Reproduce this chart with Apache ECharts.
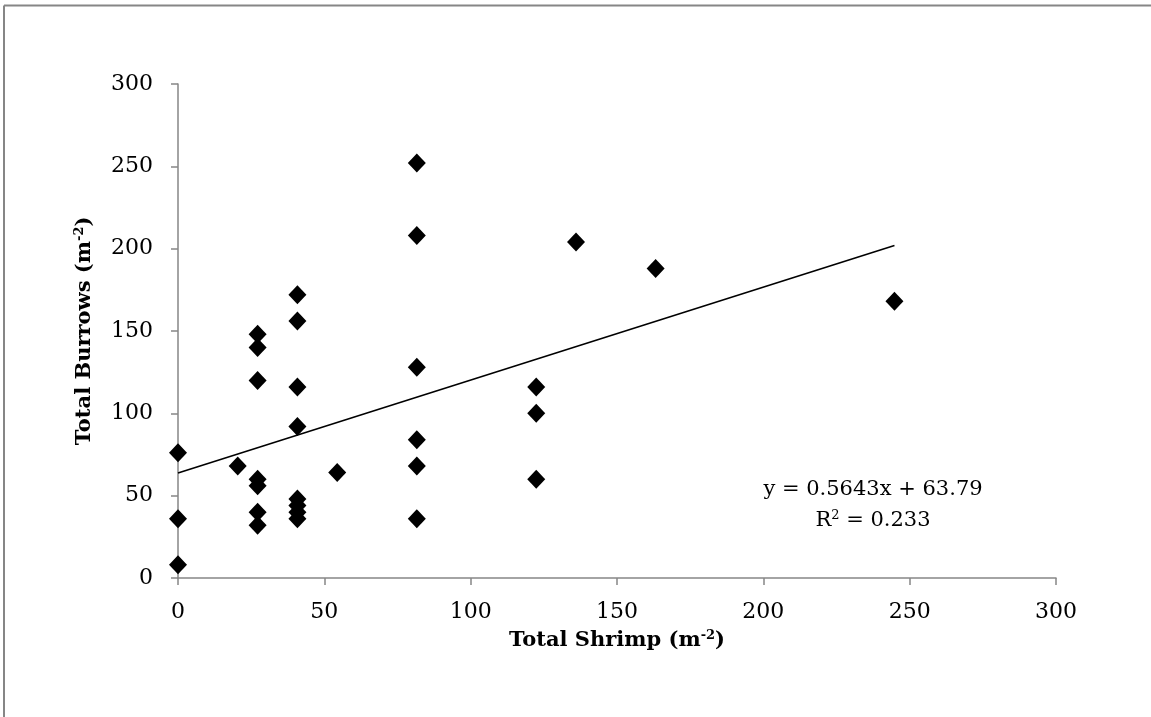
<!DOCTYPE html>
<html>
<head>
<meta charset="utf-8">
<script src="https://cdn.jsdelivr.net/npm/echarts@6/dist/echarts.min.js"></script>
<style>
  html, body { margin: 0; padding: 0; background: #fff; }
  #chart { width: 1151px; height: 717px; }
</style>
</head>
<body>
<div id="chart"></div>
<script>
// data
const shrimp = [
  0, 0, 0,
  20.4,
  27.2, 27.2, 27.2, 27.2, 27.2, 27.2, 27.2,
  40.8, 40.8, 40.8, 40.8, 40.8, 40.8, 40.8, 40.8,
  54.4,
  81.6, 81.6, 81.6, 81.6, 81.6, 81.6,
  122.4, 122.4, 122.4,
  136, 163.2, 244.8
];
const burrows = [
  76, 36, 8,
  68,
  148, 140, 120, 60, 56, 40, 32,
  172, 156, 116, 92, 48, 44, 40, 36,
  64,
  252, 208, 128, 84, 68, 36,
  116, 100, 60,
  204, 188, 168
];
// trend line as printed on the chart
const slope = 0.5643;
const intercept = 63.79;
const trendX = [0, 244.8];
const axisMin = 0, axisMax = 300, axisStep = 50;

const font = '"DejaVu Serif", "Liberation Serif", serif';
const axisGray = '#868686';

const points = shrimp.map((x, i) => [x, burrows[i]]);
const trend = trendX.map(x => [x, slope * x + intercept]);

const chart = echarts.init(document.getElementById('chart'));

const supRich = {
  sup: { fontFamily: font, fontWeight: 'bold', fontSize: 13, verticalAlign: 'top', padding: [0, 0, 10, 0], color: '#000' }
};

chart.setOption({
  animation: false,
  backgroundColor: '#fff',
  grid: { left: 178, right: 95, top: 84, bottom: 139 },
  xAxis: {
    type: 'value',
    min: axisMin, max: axisMax, interval: axisStep,
    name: 'Total Shrimp (m{sup|-2})',
    nameLocation: 'middle',
    nameGap: 51,
    nameTextStyle: { fontFamily: font, fontWeight: 'bold', fontSize: 21, color: '#000', rich: supRich },
    axisLine: { show: true, lineStyle: { color: axisGray, width: 1.5 } },
    axisTick: { show: true, inside: false, length: 7, lineStyle: { color: axisGray, width: 1.5 } },
    axisLabel: { fontFamily: font, fontSize: 22, color: '#000', margin: 23 },
    splitLine: { show: false }
  },
  yAxis: {
    type: 'value',
    min: axisMin, max: axisMax, interval: axisStep,
    name: 'Total Burrows (m{sup|-2})',
    nameLocation: 'middle',
    nameGap: 82,
    nameRotate: 90,
    nameTextStyle: { fontFamily: font, fontWeight: 'bold', fontSize: 21, color: '#000', rich: supRich },
    axisLine: { show: true, lineStyle: { color: axisGray, width: 1.5 } },
    axisTick: { show: true, inside: false, length: 7, lineStyle: { color: axisGray, width: 1.5 } },
    axisLabel: { fontFamily: font, fontSize: 22, color: '#000', margin: 25 },
    splitLine: { show: false }
  },
  series: [
    {
      type: 'scatter',
      data: points,
      symbol: 'diamond',
      symbolSize: [18, 19],
      itemStyle: { color: '#000', opacity: 1 },
      z: 3
    },
    {
      type: 'line',
      data: trend,
      showSymbol: false,
      lineStyle: { color: '#000', width: 1.6 },
      z: 2
    }
  ],
  graphic: [
    {
      type: 'line',
      shape: { x1: 4, y1: 5.5, x2: 1151, y2: 5.5 },
      style: { stroke: axisGray, lineWidth: 2 }
    },
    {
      type: 'line',
      shape: { x1: 4, y1: 5.5, x2: 4, y2: 717 },
      style: { stroke: axisGray, lineWidth: 2 }
    },
    {
      type: 'text',
      x: 873, y: 490,
      style: {
        text: 'y = 0.5643x + 63.79',
        font: '21px ' + font,
        fill: '#000',
        align: 'center',
        verticalAlign: 'middle'
      }
    },
    {
      type: 'text',
      x: 873, y: 521,
      style: {
        text: 'R{s|2} = 0.233',
        font: '21px ' + font,
        fill: '#000',
        align: 'center',
        verticalAlign: 'middle',
        rich: {
          s: { fontFamily: font, fontSize: 13, verticalAlign: 'top', padding: [0, 0, 10, 0], fill: '#000' }
        }
      }
    }
  ]
});
</script>
</body>
</html>
